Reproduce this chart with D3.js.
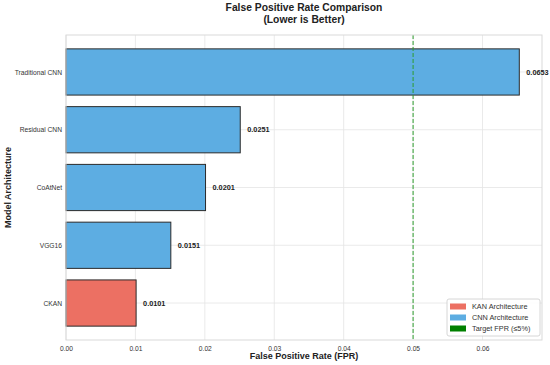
<!DOCTYPE html>
<html><head><meta charset="utf-8">
<script src="https://cdn.jsdelivr.net/npm/d3@7"></script>
<style>body{margin:0;background:#fff}svg{display:block;font-family:"Liberation Sans",Arial,sans-serif}</style>
</head><body>
<svg id="c" width="550" height="365"></svg>
<script>
const models = ["CKAN","VGG16","CoAtNet","Residual CNN","Traditional CNN"];
const fpr = [0.0101,0.0151,0.0201,0.0251,0.0653];
const family = ["KAN","CNN","CNN","CNN","CNN"];
const xTicks = [0,0.01,0.02,0.03,0.04,0.05,0.06];
const target = 0.05;
const legendLabels = ["KAN Architecture","CNN Architecture","Target FPR (\u22645%)"];

const colors = {KAN:"#ec7063", CNN:"#5dade2"};
const legendColors = ["#ec7063","#5dade2","#008000"];

const svg = d3.select("#c");
const L=66, R=542, T=35, B=340;
const x = d3.scaleLinear().domain([0,0.06857]).range([L,R]);
const y = d3.scaleLinear().domain([-0.64,4.64]).range([B,T]);
const bh = (y(0)-y(0.8));

// grid
svg.append("g").selectAll("line").data(xTicks).join("line")
  .attr("x1",d=>x(d)).attr("x2",d=>x(d)).attr("y1",T).attr("y2",B)
  .attr("stroke","#e5e5e5").attr("stroke-width",0.8);
svg.append("g").selectAll("line").data(models).join("line")
  .attr("x1",L).attr("x2",R).attr("y1",(d,i)=>y(i)).attr("y2",(d,i)=>y(i))
  .attr("stroke","#e5e5e5").attr("stroke-width",0.8);

// bars
svg.append("g").selectAll("rect").data(fpr).join("rect")
  .attr("x",x(0)).attr("y",(d,i)=>y(i)-bh/2)
  .attr("width",d=>x(d)-x(0)).attr("height",bh)
  .attr("fill",(d,i)=>colors[family[i]])
  .attr("stroke","#2b2b2b").attr("stroke-width",1);

// target line
svg.append("line").attr("x1",x(target)).attr("x2",x(target)).attr("y1",T).attr("y2",B)
  .attr("stroke","#2e9e2e").attr("stroke-width",1).attr("stroke-dasharray","4,2");

// frame
svg.append("rect").attr("x",L).attr("y",T).attr("width",R-L).attr("height",B-T)
  .attr("fill","none").attr("stroke","#d9d9d9").attr("stroke-width",1);

// value labels (drawn above frame)
svg.append("g").selectAll("text").data(fpr).join("text")
  .attr("x",d=>x(d)+7).attr("y",(d,i)=>y(i)).attr("dy","0.35em")
  .attr("font-size",7.3).attr("font-weight","bold").attr("fill","#222")
  .text(d=>d.toFixed(4));

// axes
const xa = svg.append("g").attr("transform",`translate(0,${B})`)
  .call(d3.axisBottom(x).tickValues(xTicks).tickFormat(d3.format(".2f")).tickSize(0).tickPadding(6));
xa.select(".domain").remove();
xa.selectAll("text").attr("font-size",6.7).attr("fill","#333").attr("font-family","Liberation Sans, Arial, sans-serif");

const ya = svg.append("g").attr("transform",`translate(${L},0)`)
  .call(d3.axisLeft(y).tickValues(d3.range(models.length)).tickFormat(i=>models[i]).tickSize(0).tickPadding(4));
ya.select(".domain").remove();
ya.selectAll("text").attr("font-size",6.7).attr("fill","#333").attr("font-family","Liberation Sans, Arial, sans-serif");

// titles
svg.append("text").attr("x",(L+R)/2).attr("y",11).attr("text-anchor","middle")
  .attr("font-size",10.3).attr("font-weight","bold").attr("fill","#222").text("False Positive Rate Comparison");
svg.append("text").attr("x",(L+R)/2).attr("y",22.5).attr("text-anchor","middle")
  .attr("font-size",10.3).attr("font-weight","bold").attr("fill","#222").text("(Lower is Better)");
svg.append("text").attr("x",(L+R)/2).attr("y",359).attr("text-anchor","middle")
  .attr("font-size",9).attr("font-weight","bold").attr("fill","#222").text("False Positive Rate (FPR)");
svg.append("text").attr("transform",`translate(11,${(T+B)/2}) rotate(-90)`).attr("text-anchor","middle")
  .attr("font-size",9).attr("font-weight","bold").attr("fill","#222").text("Model Architecture");

// legend
const lg = svg.append("g");
lg.append("rect").attr("x",447).attr("y",299).attr("width",93).attr("height",37).attr("rx",2)
  .attr("fill","#fff").attr("fill-opacity",0.85).attr("stroke","#cccccc").attr("stroke-width",0.8);
legendLabels.forEach((t,i)=>{
  const yy = 306.5 + i*11;
  lg.append("rect").attr("x",450).attr("y",yy-3).attr("width",16).attr("height",6).attr("fill",legendColors[i]);
  lg.append("text").attr("x",472).attr("y",yy).attr("dy","0.35em").attr("font-size",7.3).attr("fill","#333").text(t);
});
</script>
</body></html>
